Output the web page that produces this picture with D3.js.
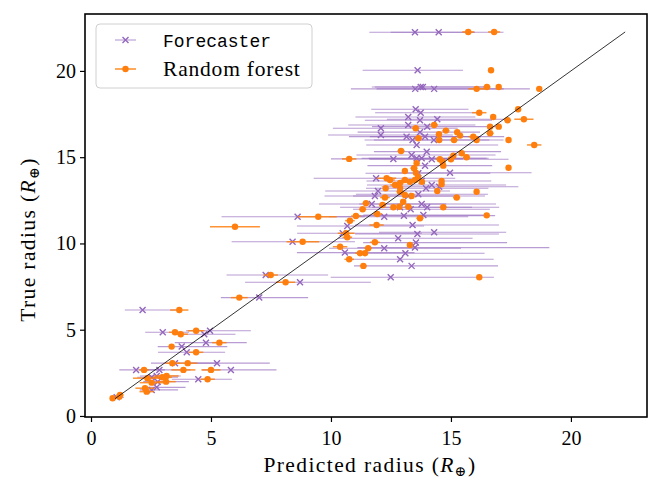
<!DOCTYPE html>
<html>
<head>
<meta charset="utf-8">
<script src="https://cdn.jsdelivr.net/npm/d3@7/dist/d3.min.js"></script>
<style>
  body { margin: 0; background: #fff; }
  svg { display: block; }
</style>
</head>
<body>
<svg id="chart" width="654" height="482"></svg>
<script>
// [predicted, true, lowerErr, upperErr]
const forecasterPoints = [
  [13.50,22.24,1.9,2.5],[14.49,22.24,2.0,2.7],[13.61,20.04,2.29,1.89],[13.51,18.96,2.68,4.78],
  [13.74,19.07,2.04,2.72],[13.83,19.07,2.0,2.6],[14.30,18.96,2.4,2.9],[13.53,17.78,1.85,2.2],
  [13.74,17.58,1.9,2.5],[13.22,17.33,2.2,2.8],[13.71,17.14,2.3,3.0],[14.43,17.20,2.1,2.9],
  [12.08,16.68,2.0,3.2],[13.22,16.87,2.5,2.8],[14.01,16.77,2.3,3.1],[12.08,16.29,2.2,3.0],
  [13.15,16.19,2.4,3.1],[13.40,16.00,2.0,3.2],[13.71,16.45,2.6,2.5],[13.92,16.19,2.3,3.3],
  [14.29,16.00,2.5,2.9],[13.57,15.71,2.1,3.4],[12.60,14.90,2.6,2.9],[13.36,15.13,2.3,3.5],
  [13.57,14.94,2.0,3.0],[13.78,14.94,2.5,2.7],[13.99,15.32,2.2,3.1],[14.20,14.88,2.6,3.2],
  [13.92,14.51,2.4,2.8],[14.96,14.10,2.5,3.4],[13.64,14.07,2.2,3.0],[11.88,13.78,2.6,3.3],
  [13.78,13.62,2.3,2.9],[14.20,13.39,2.7,3.1],[14.51,13.29,2.4,3.3],[13.96,13.20,2.5,2.6],
  [13.22,12.75,2.3,3.2],[13.64,12.85,2.6,2.9],[11.83,12.75,2.1,3.4],[11.96,13.04,2.2,3.0],
  [11.70,12.29,2.2,3.1],[12.22,11.55,2.3,3.5],[12.88,12.10,2.5,3.0],[13.04,11.61,2.0,3.8],
  [13.32,11.98,2.4,3.3],[13.78,12.29,2.6,3.1],[14.01,12.10,2.3,3.0],[13.85,11.65,2.5,2.7],
  [10.68,11.01,2.1,3.2],[13.40,11.07,2.4,3.6],[10.49,10.59,1.9,3.3],[13.60,10.55,2.6,3.4],
  [14.30,10.65,2.3,3.0],[12.80,10.30,2.5,3.1],[13.54,10.05,2.2,3.8],[13.50,9.76,2.4,5.6],
  [12.22,9.72,2.3,3.2],[10.58,9.47,2.0,2.9],[13.10,9.43,2.5,3.3],[12.88,9.08,2.2,3.9],
  [13.36,8.70,2.4,3.6],[12.49,8.04,2.5,4.3],[8.61,11.55,3.17,2.8],[8.40,10.10,2.54,2.6],
  [7.28,8.17,1.63,2.6],[8.71,7.75,2.29,2.95],[7.01,6.86,1.6,2.04],[2.15,6.14,0.74,1.47],
  [2.99,4.85,0.73,1.1],[4.72,4.74,0.9,1.3],[4.96,4.94,1.0,1.7],[4.79,4.25,1.3,1.7],
  [3.78,4.02,1.0,1.9],[3.99,3.69,1.2,1.6],[3.50,3.06,1.0,1.8],[5.25,3.06,1.3,2.2],
  [1.88,2.67,0.7,1.2],[2.85,2.67,0.8,1.3],[5.83,2.67,1.2,1.9],[2.53,2.24,0.6,1.1],
  [2.74,2.32,0.7,1.0],[4.47,2.13,1.1,1.4],[2.78,1.99,0.6,1.3],[2.74,1.66,0.5,1.2],
  [2.53,1.51,0.5,1.1],[1.07,1.08,0.2,0.3]
];

// [predicted, true, lowerErr, upperErr]
const forestPoints = [
  [15.72,22.26,0.25,0.25],[16.80,22.26,0.25,0.25],[16.67,20.04,0.05,0.05],[16.07,18.96,0.35,0.35],
  [16.50,19.07,0.15,0.15],[16.99,19.07,0.1,0.1],[18.68,18.96,0.1,0.1],[16.18,17.58,0.3,0.3],
  [17.80,17.78,0.1,0.1],[16.76,17.33,0.1,0.1],[17.36,17.14,0.15,0.15],[18.04,17.20,0.4,0.4],
  [14.30,16.87,0.15,0.15],[16.63,16.77,0.1,0.1],[16.99,16.77,0.1,0.1],[16.63,16.39,0.15,0.15],
  [17.40,16.00,0.1,0.1],[18.47,15.71,0.3,0.3],[17.40,14.39,0.1,0.1],[16.49,11.63,0.1,0.1],
  [16.18,8.04,0.1,0.1],[13.53,16.68,0.15,0.15],[14.79,16.54,0.15,0.15],[15.26,16.45,0.1,0.1],
  [15.38,16.25,0.1,0.1],[15.93,16.19,0.2,0.2],[13.64,16.10,0.15,0.15],[14.50,16.33,0.1,0.1],
  [14.51,16.00,0.1,0.1],[15.13,16.00,0.15,0.15],[16.07,16.00,0.1,0.1],[12.92,15.36,0.15,0.15],
  [10.76,14.90,0.3,0.3],[14.54,14.88,0.15,0.15],[14.65,14.74,0.1,0.1],[15.00,14.88,0.1,0.1],
  [15.10,15.09,0.1,0.1],[15.65,15.00,0.15,0.15],[15.45,15.23,0.1,0.1],[13.57,14.65,0.1,0.1],
  [14.68,14.51,0.1,0.1],[13.08,14.20,0.1,0.1],[13.46,14.36,0.15,0.15],[13.54,14.10,0.1,0.1],
  [12.32,13.78,0.4,0.4],[12.46,13.68,0.2,0.2],[12.67,13.39,0.2,0.2],[12.88,13.51,0.15,0.15],
  [13.08,13.68,0.15,0.15],[13.29,13.57,0.1,0.1],[13.50,13.68,0.15,0.15],[13.63,13.86,0.1,0.1],
  [13.79,13.57,0.1,0.1],[12.88,13.22,0.1,0.1],[14.61,13.62,0.1,0.1],[14.61,13.43,0.1,0.1],
  [12.28,13.20,0.1,0.1],[16.07,13.00,0.1,0.1],[14.43,13.04,0.1,0.1],[12.88,13.00,0.15,0.15],
  [13.08,12.81,0.1,0.1],[13.36,12.75,0.1,0.1],[15.24,12.66,0.15,0.15],[12.25,12.66,0.2,0.2],
  [11.46,12.33,0.15,0.15],[13.01,12.42,0.1,0.1],[12.15,12.23,0.15,0.15],[11.32,11.98,0.15,0.15],
  [11.93,11.71,0.2,0.2],[12.60,12.10,0.1,0.1],[12.85,12.13,0.1,0.1],[13.22,12.13,0.15,0.15],
  [14.68,12.10,0.15,0.15],[13.71,11.46,0.15,0.15],[11.04,11.59,0.2,0.2],[10.79,11.32,0.2,0.2],
  [11.90,11.07,0.3,0.3],[10.63,10.59,0.35,0.35],[10.68,10.36,0.2,0.2],[11.83,10.07,0.2,0.2],
  [13.29,9.91,0.1,0.1],[10.38,9.81,0.3,0.3],[11.55,9.72,0.15,0.15],[11.21,9.43,0.2,0.2],
  [11.42,9.43,0.1,0.1],[10.76,9.08,0.2,0.2],[11.35,8.70,0.15,0.15],[9.47,11.55,0.85,0.77],
  [6.00,10.97,1.04,1.04],[8.82,10.10,0.67,0.69],[7.49,8.17,0.3,0.3],[8.11,7.75,0.4,0.4],
  [6.18,6.86,0.35,0.35],[3.68,6.14,0.38,0.38],[3.50,4.85,0.25,0.25],[3.74,4.74,0.3,0.3],
  [4.38,4.94,0.35,0.35],[5.35,4.25,0.3,0.3],[3.36,4.02,0.1,0.1],[4.38,3.69,0.3,0.3],
  [3.39,3.06,0.3,0.3],[4.03,3.06,0.4,0.4],[2.21,2.67,0.2,0.2],[3.85,2.67,0.5,0.5],
  [5.00,2.67,0.4,0.4],[2.35,2.19,0.6,0.6],[2.97,2.24,0.4,0.4],[3.15,2.32,0.5,0.5],
  [4.86,2.13,0.3,0.3],[2.53,1.93,0.5,0.5],[3.13,1.99,0.4,0.4],[2.25,1.61,0.4,0.4],
  [2.32,1.41,0.3,0.3],[0.90,1.03,0.1,0.1],[1.21,1.22,0.15,0.15],[1.18,1.12,0.1,0.1]
];

const identityLine = [1.0, 22.26];
const xTicks = [0, 5, 10, 15, 20];
const yTicks = [0, 5, 10, 15, 20];
const seriesNames = ["Forecaster", "Random forest"];
const seriesColors = ["#9467bd", "#ff7f0e"];

const serif = "'Liberation Serif', 'DejaVu Serif', serif";
const mono = "'Liberation Mono', 'DejaVu Sans Mono', monospace";

const svg = d3.select("#chart");
const margin = {left: 85, right: 647, top: 14, bottom: 417};

const x = d3.scaleLinear().domain([-0.25, 23.17]).range([margin.left, margin.right]);
const y = d3.scaleLinear().domain([-0.06, 23.3]).range([margin.bottom, margin.top]);

const plot = svg.append("g");

// Forecaster error bars
plot.append("g").selectAll("line").data(forecasterPoints).join("line")
  .attr("x1", d => x(d[0] - d[2])).attr("x2", d => x(d[0] + d[3]))
  .attr("y1", d => y(d[1])).attr("y2", d => y(d[1]))
  .attr("stroke", seriesColors[0]).attr("stroke-opacity", 0.65).attr("stroke-width", 1.1);

// Forecaster markers (x)
const xm = 3;
plot.append("g").selectAll("path").data(forecasterPoints).join("path")
  .attr("d", d => {
    const cx = x(d[0]), cy = y(d[1]);
    return `M${cx-xm},${cy-xm}L${cx+xm},${cy+xm}M${cx-xm},${cy+xm}L${cx+xm},${cy-xm}`;
  })
  .attr("stroke", seriesColors[0]).attr("stroke-width", 1.4).attr("fill", "none");

// Random forest error bars
plot.append("g").selectAll("line").data(forestPoints).join("line")
  .attr("x1", d => x(d[0] - d[2])).attr("x2", d => x(d[0] + d[3]))
  .attr("y1", d => y(d[1])).attr("y2", d => y(d[1]))
  .attr("stroke", seriesColors[1]).attr("stroke-opacity", 0.85).attr("stroke-width", 1.5);

plot.append("g").selectAll("circle").data(forestPoints).join("circle")
  .attr("cx", d => x(d[0])).attr("cy", d => y(d[1])).attr("r", 3.2)
  .attr("fill", seriesColors[1]);

// identity line
plot.append("line")
  .attr("x1", x(identityLine[0])).attr("y1", y(identityLine[0]))
  .attr("x2", x(identityLine[1])).attr("y2", y(identityLine[1]))
  .attr("stroke", "#000").attr("stroke-width", 0.8);

// axes
const xAxis = d3.axisBottom(x).tickValues(xTicks).tickSize(5).tickPadding(9).tickFormat(d3.format("d"));
const yAxis = d3.axisLeft(y).tickValues(yTicks).tickSize(5).tickPadding(4).tickFormat(d3.format("d"));
const gx = svg.append("g").attr("transform", `translate(0,${margin.bottom})`).call(xAxis);
const gy = svg.append("g").attr("transform", `translate(${margin.left},0)`).call(yAxis);
[gx, gy].forEach(g => {
  g.attr("font-family", null).attr("font-size", null);
  g.select(".domain").remove();
  g.selectAll(".tick line").attr("stroke", "#000").attr("stroke-width", 1.2);
  g.selectAll(".tick text").style("font-family", serif).style("font-size", "20px").attr("fill", "#000");
});

// frame
svg.append("rect")
  .attr("x", margin.left).attr("y", margin.top)
  .attr("width", margin.right - margin.left).attr("height", margin.bottom - margin.top)
  .attr("fill", "none").attr("stroke", "#000").attr("stroke-width", 1.6);

// axis labels
const labelSize = "21.5px";
const xl = svg.append("text").attr("x", 370).attr("y", 472)
  .attr("text-anchor", "middle").style("font-family", serif).style("font-size", labelSize)
  .attr("letter-spacing", 1.4);
xl.append("tspan").text("Predicted radius (");
xl.append("tspan").attr("font-style", "italic").text("R");
xl.append("tspan").style("font-size", "14px").attr("dy", 4).text("⊕");
xl.append("tspan").attr("dy", -4).text(")");

const yl = svg.append("text")
  .attr("transform", `translate(35,${(margin.top + margin.bottom) / 2 + 24}) rotate(-90)`)
  .attr("text-anchor", "middle").style("font-family", serif).style("font-size", labelSize)
  .attr("letter-spacing", 1.4);
yl.append("tspan").text("True radius (");
yl.append("tspan").attr("font-style", "italic").text("R");
yl.append("tspan").style("font-size", "14px").attr("dy", 4).text("⊕");
yl.append("tspan").attr("dy", -4).text(")");

// legend
const lg = svg.append("g");
lg.append("rect").attr("x", 96).attr("y", 24).attr("width", 216).attr("height", 64).attr("rx", 4)
  .attr("fill", "#fff").attr("fill-opacity", 0.8).attr("stroke", "#d0d0d0").attr("stroke-width", 1);
const ly = [40, 69];
seriesNames.forEach((name, i) => {
  lg.append("line").attr("x1", 115).attr("x2", 136).attr("y1", ly[i]).attr("y2", ly[i])
    .attr("stroke", seriesColors[i]).attr("stroke-opacity", i === 0 ? 0.65 : 0.9).attr("stroke-width", i === 0 ? 1.1 : 1.5);
  if (i === 0) {
    const cx = 125.5, cy = ly[i];
    lg.append("path").attr("d", `M${cx-xm},${cy-xm}L${cx+xm},${cy+xm}M${cx-xm},${cy+xm}L${cx+xm},${cy-xm}`)
      .attr("stroke", seriesColors[0]).attr("stroke-width", 1.4);
  } else {
    lg.append("circle").attr("cx", 125.5).attr("cy", ly[i]).attr("r", 3.2).attr("fill", seriesColors[1]);
  }
  const t = lg.append("text").attr("x", 163).attr("y", ly[i] + 7).attr("fill", "#000").text(name);
  if (i === 0) t.style("font-family", mono).style("font-size", "18px");
  else t.style("font-family", serif).style("font-size", labelSize).attr("letter-spacing", 0.8);
});
</script>
</body>
</html>
